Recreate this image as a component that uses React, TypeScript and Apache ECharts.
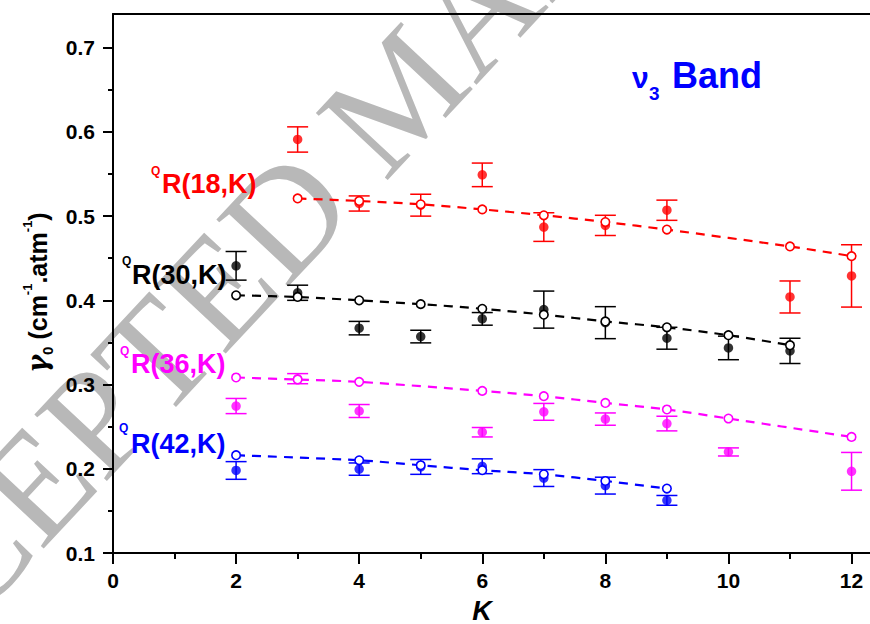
import React, { useEffect, useRef } from "react";
import * as echarts from "echarts";

// ---------- data ----------
const xMajorTicks = [0, 2, 4, 6, 8, 10, 12];
const xMinorTicks = [1, 3, 5, 7, 9, 11];
const yMajorTicks = [0.1, 0.2, 0.3, 0.4, 0.5, 0.6, 0.7];
const yMinorTicks = [0.15, 0.25, 0.35, 0.45, 0.55, 0.65];

// QR(18,K) – red
const redK = [3, 4, 5, 6, 7, 8, 9, 11, 12];
const redMeasured = [0.591, 0.515, 0.513, 0.549, 0.487, 0.489, 0.507, 0.404, 0.429];
const redError = [0.015, 0.009, 0.013, 0.014, 0.017, 0.012, 0.012, 0.019, 0.037];
const redCalc = [0.521, 0.518, 0.514, 0.508, 0.501, 0.493, 0.484, 0.464, 0.4525];

// QR(30,K) – black
const blackK = [2, 3, 4, 5, 6, 7, 8, 9, 10, 11];
const blackMeasured = [0.441, 0.409, 0.367, 0.357, 0.378, 0.389, 0.3735, 0.355, 0.3435, 0.340];
const blackError = [0.017, 0.009, 0.008, 0.0075, 0.0075, 0.022, 0.019, 0.013, 0.014, 0.015];
const blackCalc = [0.406, 0.404, 0.400, 0.3955, 0.390, 0.383, 0.375, 0.368, 0.3586, 0.3468];

// QR(36,K) – magenta
const magentaK = [2, 3, 4, 6, 7, 8, 9, 10, 12];
const magentaMeasured = [0.2745, 0.307, 0.2686, 0.2434, 0.2676, 0.259, 0.2537, 0.220, 0.197];
const magentaError = [0.009, 0.006, 0.0077, 0.0056, 0.010, 0.0073, 0.0087, 0.0048, 0.0224];
const magentaCalc = [0.3084, 0.306, 0.3032, 0.2925, 0.2862, 0.2782, 0.2704, 0.2597, 0.2378];

// QR(42,K) – blue
const blueK = [2, 4, 5, 6, 7, 8, 9];
const blueMeasured = [0.198, 0.1996, 0.2022, 0.203, 0.189, 0.180, 0.1625];
const blueError = [0.0105, 0.0073, 0.0088, 0.0088, 0.010, 0.010, 0.0058];
const blueCalc = [0.2161, 0.2101, 0.2042, 0.1983, 0.1935, 0.1855, 0.1765];

const groups = [
  { name: "R(18,K)", color: "#ff0000", k: redK, meas: redMeasured, err: redError, calc: redCalc },
  { name: "R(30,K)", color: "#000000", k: blackK, meas: blackMeasured, err: blackError, calc: blackCalc },
  { name: "R(36,K)", color: "#ff00ff", k: magentaK, meas: magentaMeasured, err: magentaError, calc: magentaCalc },
  { name: "R(42,K)", color: "#0000ff", k: blueK, meas: blueMeasured, err: blueError, calc: blueCalc },
];

const FONT = "'Liberation Sans', Arial, Helvetica, sans-serif";

function buildOption() {
  const series: any[] = [];
  groups.forEach((g) => {
    series.push({
      type: "custom",
      name: g.name + " err",
      z: 2,
      renderItem: (params: any, api: any) => {
        const x = api.value(0);
        const lo = api.value(1);
        const hi = api.value(2);
        const top = api.coord([x, hi]);
        const bot = api.coord([x, lo]);
        const hw = 10.5;
        const style = { stroke: g.color, lineWidth: 1.5 };
        return {
          type: "group",
          children: [
            { type: "line", shape: { x1: top[0], y1: top[1], x2: bot[0], y2: bot[1] }, style },
            { type: "line", shape: { x1: top[0] - hw, y1: top[1], x2: top[0] + hw, y2: top[1] }, style },
            { type: "line", shape: { x1: bot[0] - hw, y1: bot[1], x2: bot[0] + hw, y2: bot[1] }, style },
          ],
        };
      },
      encode: { x: 0, y: [1, 2] },
      data: g.k.map((k, i) => [k, g.meas[i] - g.err[i], g.meas[i] + g.err[i]]),
    });
    series.push({
      type: "scatter",
      name: g.name + " meas",
      z: 3,
      symbol: "circle",
      symbolSize: 9.5,
      itemStyle: { color: g.color },
      data: g.k.map((k, i) => [k, g.meas[i]]),
    });
    series.push({
      type: "line",
      name: g.name + " calc",
      z: 4,
      smooth: 0.3,
      symbol: "circle",
      symbolSize: 8.5,
      itemStyle: { color: "#ffffff", borderColor: g.color, borderWidth: 1.6 },
      lineStyle: { color: g.color, width: 2.2, type: [9, 7] },
      data: g.k.map((k, i) => [k, g.calc[i]]),
    });
  });

  const labelTexts: any[] = [];
  const labelPos = [
    { q: [151, 171], r: [162, 184] },
    { q: [122, 261], r: [132, 275] },
    { q: [120, 351], r: [131, 364] },
    { q: [119, 428], r: [131, 444] },
  ];
  groups.forEach((g, i) => {
    labelTexts.push({
      type: "text",
      x: labelPos[i].q[0],
      y: labelPos[i].q[1],
      z: 10,
      style: { text: "Q", fill: g.color, font: `bold 12px ${FONT}`, align: "left", verticalAlign: "middle" },
    });
    labelTexts.push({
      type: "text",
      x: labelPos[i].r[0],
      y: labelPos[i].r[1],
      z: 10,
      style: { text: g.name, fill: g.color, font: `bold 27px ${FONT}`, align: "left", verticalAlign: "middle" },
    });
  });

  return {
    animation: false,
    backgroundColor: "#ffffff",
    grid: { left: 113, right: 0, top: 14, bottom: 71, containLabel: false, outerBoundsMode: "none" },
    xAxis: [
      {
        type: "value",
        min: 0,
        max: 12.3,
        position: "bottom",
        name: "K",
        nameLocation: "middle",
        nameGap: 45,
        nameTextStyle: {
          fontSize: 27,
          lineHeight: 26,
          fontWeight: "bold",
          fontStyle: "italic",
          fontFamily: FONT,
          color: "#000",
          padding: [0, 19, 0, 0],
        },
        axisLine: { show: true, onZero: false, lineStyle: { color: "#000", width: 2 } },
        axisTick: { show: true, length: 11, customValues: xMajorTicks, lineStyle: { color: "#000", width: 2 } },
        axisLabel: {
          customValues: xMajorTicks,
          formatter: (v: number) => String(v),
          fontSize: 21,
          fontWeight: "bold",
          fontFamily: FONT,
          color: "#000",
          margin: 17,
        },
        splitLine: { show: false },
      },
      {
        type: "value",
        min: 0,
        max: 12.3,
        position: "bottom",
        axisLine: { show: false, onZero: false },
        axisTick: { show: true, length: 6, customValues: xMinorTicks, lineStyle: { color: "#000", width: 2 } },
        axisLabel: { show: false },
        splitLine: { show: false },
      },
      {
        type: "value",
        min: 0,
        max: 12.3,
        position: "top",
        axisLine: { show: true, onZero: false, lineStyle: { color: "#000", width: 2 } },
        axisTick: { show: false },
        axisLabel: { show: false },
        splitLine: { show: false },
      },
    ],
    yAxis: [
      {
        type: "value",
        min: 0.1,
        max: 0.74,
        position: "left",
        name: "{g|γ}{s|0}{t| (cm}{p|-1}{t|.atm}{p|-1}{t|)}",
        nameLocation: "middle",
        nameRotate: 90,
        nameGap: 58,
        nameTextStyle: {
          padding: [0, 18, 0, 0],
          rich: {
            g: { fontSize: 27, fontWeight: "bold", fontStyle: "italic", fontFamily: "'DejaVu Serif', serif", color: "#000", lineHeight: 34 },
            s: { fontSize: 15, fontWeight: "bold", fontFamily: FONT, color: "#000", verticalAlign: "bottom", lineHeight: 15 },
            t: { fontSize: 25, fontWeight: "bold", fontFamily: FONT, color: "#000", lineHeight: 34 },
            p: { fontSize: 13, fontWeight: "bold", fontFamily: FONT, color: "#000", verticalAlign: "top", lineHeight: 13 },
          },
        },
        axisLine: { show: true, onZero: false, lineStyle: { color: "#000", width: 2 } },
        axisTick: { show: true, length: 10, customValues: yMajorTicks, lineStyle: { color: "#000", width: 2 } },
        axisLabel: {
          customValues: yMajorTicks,
          formatter: (v: number) => v.toFixed(1),
          fontSize: 21,
          fontWeight: "bold",
          fontFamily: FONT,
          color: "#000",
          margin: 18,
        },
        splitLine: { show: false },
      },
      {
        type: "value",
        min: 0.1,
        max: 0.74,
        position: "left",
        axisLine: { show: false, onZero: false },
        axisTick: { show: true, length: 5, customValues: yMinorTicks, lineStyle: { color: "#000", width: 2 } },
        axisLabel: { show: false },
        splitLine: { show: false },
      },
    ],
    graphic: [
      {
        type: "text",
        x: 400,
        y: 92,
        rotation: 0.82,
        z: -10,
        silent: true,
        style: {
          text: "ACCEPTED MANUSCRIPT",
          font: "150px 'Liberation Serif', 'Times New Roman', serif",
          fill: "#b8b8b8",
          align: "center",
          verticalAlign: "middle",
        },
      },
      ...labelTexts,
      {
        type: "text",
        x: 632,
        y: 77,
        z: 10,
        style: { text: "ν", fill: "#0000ff", font: `bold 30px ${FONT}`, align: "left", verticalAlign: "middle" },
      },
      {
        type: "text",
        x: 649,
        y: 93.5,
        z: 10,
        style: { text: "3", fill: "#0000ff", font: `bold 19px ${FONT}`, align: "left", verticalAlign: "middle" },
      },
      {
        type: "text",
        x: 672,
        y: 75,
        z: 10,
        style: { text: "Band", fill: "#0000ff", font: `bold 36px ${FONT}`, align: "left", verticalAlign: "middle" },
      },
    ],
    series,
  };
}

export default function App() {
  const ref = useRef<HTMLDivElement>(null);
  useEffect(() => {
    if (!ref.current) return;
    const chart = echarts.init(ref.current, null, { renderer: "svg" });
    chart.setOption(buildOption() as any);
    return () => chart.dispose();
  }, []);
  return (
    <div
      ref={ref}
      style={{ position: "fixed", left: 0, top: 0, width: 870, height: 624, background: "#fff" }}
    />
  );
}
